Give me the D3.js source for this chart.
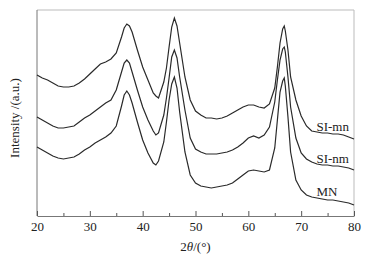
<!doctype html>
<html>
<head>
  <meta charset="utf-8">
  <title>XRD</title>
  <script src="https://d3js.org/d3.v7.min.js"></script>
  <style>
    body { margin: 0; background: #fff; }
    text { font-family: "Liberation Serif", "DejaVu Serif", serif; fill: #222; }
  </style>
</head>
<body>
  <div id="chart"></div>
  <script>
    // 2theta positions (deg) shared by all three patterns
    var twoTheta = [20,21,22,23,24,25,26,27,28,29,30,31,32,33,34,35,36,36.5,37,37.5,38,39,40,41,42,42.5,43,44,44.5,45,45.5,46,46.5,47,48,49,50,51,52,53,54,55,56,57,58,59,60,61,62,63,64,65,65.5,66,66.5,66.8,67,67.5,68,69,70,71,72,73,74,75,76,77,78,79,80];

    // intensities (a.u.)
    var siMn = [141,138,136,133,130,129,129,130,133,137,142,147,152,154,157,163,179,188,192,190,184,166,149,136,123,120,118,134,148,169,189,198,190,173,139,116,105,101,98,98,97,98,100,103,106,109,111,111,109,108,112,128,149,173,187,190,185,166,139,116,100,90,85,84,83,83,82,82,81,79,77];
    var siNm = [99,96,93,90,88,88,89,90,94,98,101,105,109,113,116,126,144,153,156,153,144,126,109,96,85,81,83,101,118,138,159,166,158,139,106,78,67,64,62,62,62,63,64,66,69,73,78,80,78,81,89,114,136,156,167,169,164,139,109,78,63,57,54,52,51,51,50,50,49,48,46];
    var mn = [69,66,63,60,58,57,58,59,62,66,69,73,76,79,83,90,110,121,125,121,113,94,76,63,53,51,55,74,94,116,132,139,128,104,64,41,33,30,29,28,29,30,31,33,37,41,45,46,45,44,46,68,96,124,135,138,130,99,64,36,26,21,19,18,17,16,16,15,14,13,11];

    var series = [
      { name: "SI-mn", values: siMn, label: 85 },
      { name: "SI-nm", values: siNm, label: 53 },
      { name: "MN", values: mn, label: 20 }
    ];

    var width = 365, height = 257;
    var margin = { left: 37, right: 11, top: 10, bottom: 41 };

    var svg = d3.select("#chart").append("svg")
      .attr("width", width)
      .attr("height", height);

    var x = d3.scaleLinear().domain([20, 80]).range([margin.left, width - margin.right]);
    var y = d3.scaleLinear().domain([0, 206]).range([height - margin.bottom, margin.top]);

    // frame: top and right lighter
    svg.append("line")
      .attr("x1", x(20)).attr("x2", x(80))
      .attr("y1", y(206)).attr("y2", y(206))
      .attr("stroke", "#bbb");
    svg.append("line")
      .attr("x1", x(80)).attr("x2", x(80))
      .attr("y1", y(206)).attr("y2", y(0))
      .attr("stroke", "#bbb");
    svg.append("line")
      .attr("x1", x(20)).attr("x2", x(20))
      .attr("y1", y(206)).attr("y2", y(0))
      .attr("stroke", "#777");

    // minor ticks
    svg.append("g")
      .attr("transform", "translate(0," + y(0) + ")")
      .call(d3.axisBottom(x).tickValues(d3.range(25, 80, 10)).tickSizeInner(-3).tickSizeOuter(0).tickFormat(""))
      .call(function(g) { g.select(".domain").remove(); })
      .selectAll("line").attr("stroke", "#555");

    // major ticks
    var xAxis = svg.append("g")
      .attr("transform", "translate(0," + y(0) + ")")
      .call(d3.axisBottom(x).tickValues(d3.range(20, 81, 10)).tickSizeInner(-5).tickSizeOuter(0).tickPadding(6));
    xAxis.select(".domain").attr("stroke", "#777");
    xAxis.selectAll(".tick line").attr("stroke", "#555");
    xAxis.selectAll(".tick text")
      .style("font-family", "Liberation Serif, serif")
      .style("font-size", "13px")
      .attr("fill", "#222");

    var line = d3.line()
      .x(function(d, i) { return x(twoTheta[i]); })
      .y(function(d) { return y(d); });

    series.forEach(function(s) {
      svg.append("path")
        .datum(s.values)
        .attr("d", line)
        .attr("fill", "none")
        .attr("stroke", "#2a2a2a")
        .attr("stroke-width", 1.2);

      svg.append("text")
        .attr("x", x(72.9))
        .attr("y", y(s.label))
        .attr("font-size", "13px")
        .text(s.name);
    });

    // axis titles
    var xt = svg.append("text")
      .attr("x", (x(20) + x(80)) / 2)
      .attr("y", 251)
      .attr("text-anchor", "middle")
      .attr("font-size", "13px");
    xt.append("tspan").text("2");
    xt.append("tspan").attr("font-style", "italic").text("θ");
    xt.append("tspan").text("/(°)");

    svg.append("text")
      .attr("transform", "translate(18.5," + (y(98)) + ")rotate(-90)")
      .attr("text-anchor", "middle")
      .attr("font-size", "13px")
      .text("Intensity /(a.u.)");
  </script>
</body>
</html>
